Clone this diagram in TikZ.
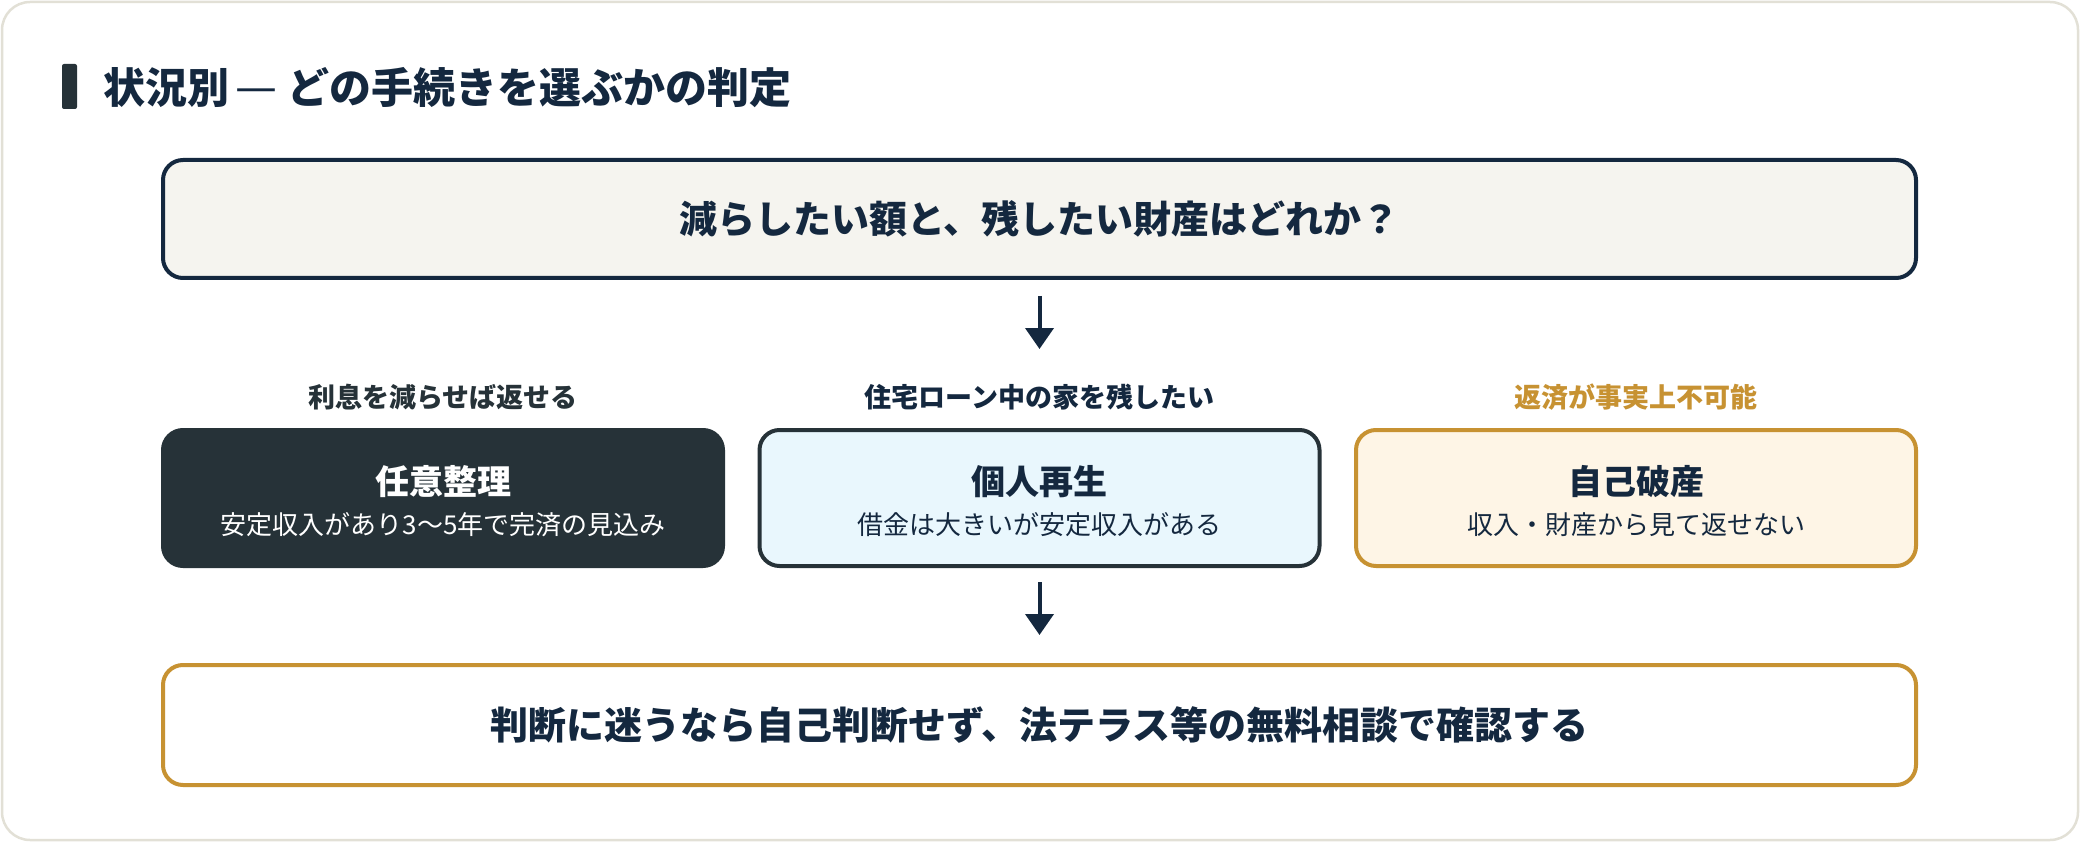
\documentclass[tikz,border=0pt]{standalone}
\usepackage{fontspec}
\setmainfont{Noto Sans CJK JP}
\usetikzlibrary{arrows.meta}
\definecolor{navy}{HTML}{14283F}
\definecolor{slate}{HTML}{263238}
\definecolor{gold}{HTML}{C79232}
\definecolor{paper}{HTML}{F5F4EF}
\definecolor{ice}{HTML}{E9F7FD}
\definecolor{cream}{HTML}{FEF5E6}
\definecolor{rim}{HTML}{E2E0D6}
\tikzset{
    box/.style={rectangle,rounded corners=20pt,line width=4pt,align=center,inner sep=0pt},
    flow/.style={navy,line width=4pt,-{Triangle[width=28pt,length=21pt]}}
}
\begin{document}
\begin{tikzpicture}[x=1pt,y=-1pt]
    \useasboundingbox (0,0) rectangle (2080,842);
    \draw[rim,line width=2.5pt,rounded corners=28pt,fill=white] (2,2) rectangle (2078,840);
    \fill[slate,rounded corners=2pt] (62,64) rectangle (77,109);
    \node[anchor=west,text=navy,font=\fontsize{42}{50}\selectfont\bfseries] (title) at (100,87.5) {状況別\hspace{6pt}{\mdseries\resizebox{42pt}{!}{—}}\hspace{10pt}どの手続きを選ぶかの判定};
    \node[box,fill=paper,draw=navy,minimum width=1753pt,minimum height=118pt,text=navy,font=\fontsize{38}{44}\selectfont\bfseries] (q) at (1039.5,219) {減らしたい額と、残したい財産はどれか？};
    \foreach \n/\cx/\fc/\dc/\tc/\lc/\lab/\head/\sub in {
        1/443/slate/slate/white/slate/利息を減らせば返せる/任意整理/安定収入があり3〜5年で完済の見込み,
        2/1039.5/ice/slate/navy/navy/住宅ローン中の家を残したい/個人再生/借金は大きいが安定収入がある,
        3/1636/cream/gold/navy/gold/返済が事実上不可能/自己破産/収入・財産から見て返せない} {
        \node[text=\lc,font=\fontsize{27}{32}\selectfont\bfseries] (l\n) at (\cx,397) {\lab};
        \node[box,fill=\fc,draw=\dc,minimum width=560pt,minimum height=136pt] (b\n) at (\cx,498) {};
        \node[text=\tc,font=\fontsize{34}{40}\selectfont\bfseries] (h\n) at ([yshift=16.5pt]b\n.center) {\head};
        \node[text=\tc,font=\fontsize{26}{30}\selectfont] (s\n) at ([yshift=-27pt]b\n.center) {\sub};
    }
    \node[box,fill=white,draw=gold,minimum width=1753pt,minimum height=120pt,text=navy,font=\fontsize{38}{44}\selectfont\bfseries] (adv) at (1039.5,725) {判断に迷うなら自己判断せず、法テラス等の無料相談で確認する};
    \draw[flow,shorten <=16pt,shorten >=79pt] (q.south) -- (b2.north);
    \draw[flow,shorten <=14pt,shorten >=28pt] (b2.south) -- (adv.north);
\end{tikzpicture}
\end{document}
